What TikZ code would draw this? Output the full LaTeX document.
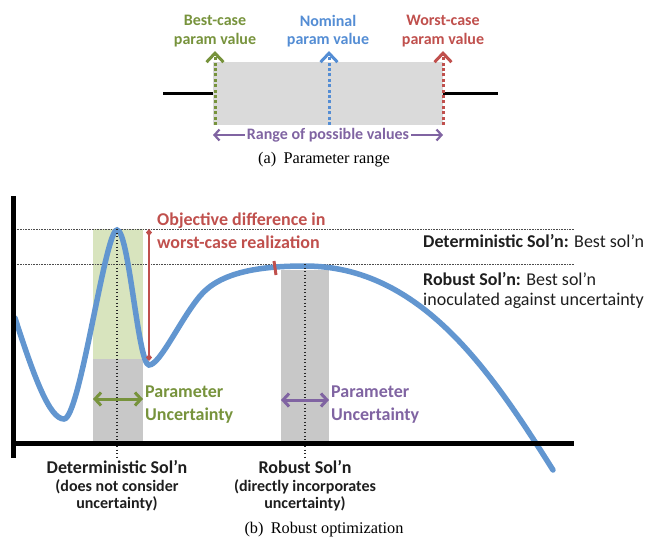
\documentclass[tikz,border=0pt]{standalone}
\usepackage{fontspec}
\setmainfont{Carlito}
\newfontfamily\capfont{Liberation Serif}
\usetikzlibrary{arrows.meta}
\definecolor{cgreen}{RGB}{119,147,60}
\definecolor{cblue}{RGB}{84,141,212}
\definecolor{cred}{RGB}{192,80,77}
\definecolor{cpurple}{RGB}{128,100,162}
\definecolor{curveblue}{RGB}{98,150,208}
\definecolor{lgray}{RGB}{218,218,218}
\definecolor{mgray}{RGB}{200,200,200}
\definecolor{lgreen}{RGB}{216,228,190}
\definecolor{txt}{RGB}{30,30,30}
\begin{document}
\begin{tikzpicture}[x=1pt,y=-1pt,
  toplbl/.style={font=\fontsize{16}{18.5}\selectfont\bfseries, align=center, inner sep=0pt},
  biglbl/.style={font=\fontsize{18}{23}\selectfont\bfseries, align=left, inner sep=0pt},
  sublbl/.style={font=\fontsize{16}{17.5}\selectfont\bfseries, align=center, inner sep=0pt, text=txt},
  captext/.style={font=\capfont\fontsize{16.3}{19}\selectfont, inner sep=0pt},
  varrow/.style={line width=3pt, dash pattern=on 3pt off 2.4pt, -{Straight Barb[length=9pt,width=17pt]}},
  harrow/.style={line width=2.2pt, -{Straight Barb[length=5pt,width=11pt]}},
  darrow/.style={line width=3pt, {Straight Barb[length=6pt,width=13pt]}-{Straight Barb[length=6pt,width=13pt]}},
  fineline/.style={line width=0.6pt, dash pattern=on 0.8pt off 0.8pt, black!70},
  vdot/.style={line width=1.3pt, dash pattern=on 1.3pt off 2.2pt, black!85},
  axisline/.style={line width=5pt, black}
]
\useasboundingbox (0,0) rectangle (648,547);

% ---------------- (a) Parameter range ----------------
\fill[lgray] (213,62) rectangle (443,125);
\coordinate (blL) at (163,93);
\coordinate (blLe) at (213,93);
\coordinate (blR) at (443,93);
\coordinate (blRe) at (498,93);
\draw[line width=3pt] (blL) -- (blLe);
\draw[line width=3pt] (blR) -- (blRe);

\coordinate (gB) at (215,125); \coordinate (gT) at (215,51);
\coordinate (bB) at (329,125); \coordinate (bT) at (329,51);
\coordinate (rB) at (443,125); \coordinate (rT) at (443,51);
\draw[varrow, cgreen] (gB) -- (gT);
\draw[varrow, cblue] (bB) -- (bT);
\draw[varrow, cred] (rB) -- (rT);

\node[toplbl, text=cgreen] (best) at (215,31) {Best-case\\param value};
\node[toplbl, text=cblue] (nom) at (328,31) {Nominal\\param value};
\node[toplbl, text=cred] (worst) at (443,31) {Worst-case\\param value};

\node[toplbl, text=cpurple, inner xsep=2pt] (rng) at (328,135) {Range of possible values};
\coordinate (rngL) at (213,135);
\coordinate (rngR) at (443,135);
\draw[harrow, cpurple] (rng.west) -- (rngL);
\draw[harrow, cpurple] (rng.east) -- (rngR);

\node[captext] (capa) at (324,160) {(a)\hspace{0.45em}Parameter range};

% ---------------- (b) Robust optimization ----------------
\fill[lgreen] (93,229) rectangle (143,359);
\fill[mgray] (93,359) rectangle (143,443);
\fill[mgray] (281,270) rectangle (329,443);

\coordinate (h1L) at (15,229); \coordinate (h1R) at (574,229);
\coordinate (h2L) at (15,264); \coordinate (h2R) at (574,264);
\draw[fineline] (h1L) -- (h1R);
\draw[fineline] (h2L) -- (h2R);

\draw[curveblue, line width=5.5pt, line cap=round]
  (15,318) .. controls (35,380) and (50,419) .. (64,419)
  .. controls (80,419) and (105,230) .. (117,230)
  .. controls (129,230) and (138,365) .. (149,365)
  .. controls (160,365) and (180,320) .. (200,296)
  .. controls (220,272) and (260,266) .. (305,266)
  .. controls (420,266) and (490,370) .. (553,470);

\coordinate (dT) at (117,229); \coordinate (dB) at (117,458);
\coordinate (roT) at (305,264); \coordinate (roB) at (305,458);
\draw[vdot] (dT) -- (dB);
\draw[vdot] (roT) -- (roB);

\coordinate (axTop) at (13,196);
\coordinate (axBot) at (13,458);
\coordinate (axOrig) at (13,443);
\coordinate (axRight) at (574,443);
\draw[axisline] (axTop) -- (axBot);
\draw[axisline] (axOrig) -- (axRight);

% red objective difference
\coordinate (odT) at (149,229); \coordinate (odB) at (149,361);
\draw[cred, line width=2pt, {Diamond[length=7pt,width=6pt]}-{Diamond[length=7pt,width=6pt]}] (odT) -- (odB);
\coordinate (tk1) at (274,261); \coordinate (tk2) at (276,275);
\draw[cred, line width=3pt] (tk1) -- (tk2);

\node[biglbl, text=cred, anchor=west] (obj) at (157,231) {Objective difference in\\worst-case realization};

% parameter uncertainty arrows
\coordinate (gaL) at (93,399); \coordinate (gaR) at (143,399);
\draw[darrow, cgreen] (gaL) -- (gaR);
\node[biglbl, text=cgreen, anchor=west] (pug) at (145,405) {Parameter\\Uncertainty};
\coordinate (paL) at (281,400); \coordinate (paR) at (329,400);
\draw[darrow, cpurple] (paL) -- (paR);
\node[biglbl, text=cpurple, anchor=west] (pup) at (331,405) {Parameter\\Uncertainty};

% right labels
\node[anchor=west, inner sep=0pt, font=\fontsize{18}{21}\selectfont, text=txt] (detr) at (423,241) {\textbf{Deterministic Sol’n:} Best sol’n};
\node[anchor=west, inner sep=0pt, align=left, font=\fontsize{18}{20}\selectfont, text=txt] (robr) at (423,290) {\textbf{Robust Sol’n:} Best sol’n\\inoculated against uncertainty};

% bottom labels
\node[biglbl, align=center, anchor=north, text=txt] (dsol) at (117,460) {Deterministic Sol’n};
\node[sublbl, anchor=north] (dsub) at (117,479) {(does not consider\\uncertainty)};
\node[biglbl, align=center, anchor=north, text=txt] (rsol) at (305,460) {Robust Sol’n};
\node[sublbl, anchor=north] (rsub) at (305,479) {(directly incorporates\\uncertainty)};

\node[captext] (capb) at (324,530) {(b)\hspace{0.45em}Robust optimization};
\end{tikzpicture}
\end{document}
